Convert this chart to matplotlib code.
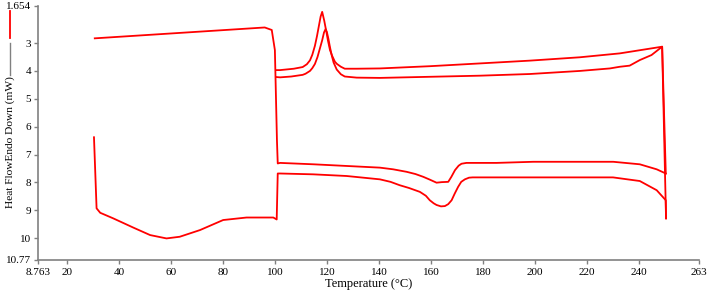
import numpy as np
import matplotlib.pyplot as plt
from matplotlib.lines import Line2D

# First heating: start-up hook, 30 -> 100, then 100 -> 250 (deeper melting dip)
heat1_temp = [30.3, 31.3, 32.7, 37.7, 45.4, 51.9, 58.2, 63.3, 71.1, 80.0, 89.0, 99.3, 100.6,
              101.0, 101.9, 114.6, 127.5, 140.3, 144.4, 147.9, 151.5, 155.7, 158.0, 159.5,
              161.0, 162.1, 163.8, 165.3, 166.6, 167.9, 169.1, 170.4, 171.6, 173.0, 174.6,
              176.0, 194.1, 230.0, 240.3, 246.8, 250.3, 250.4]
heat1_flow = [6.38, 8.93, 9.09, 9.29, 9.62, 9.89, 10.01, 9.95, 9.71, 9.35, 9.26, 9.26, 9.33,
              7.68, 7.68, 7.71, 7.77, 7.89, 7.98, 8.10, 8.20, 8.34, 8.48, 8.64,
              8.75, 8.81, 8.86, 8.85, 8.78, 8.64, 8.40, 8.16, 7.98, 7.89, 7.83,
              7.82, 7.82, 7.82, 7.95, 8.28, 8.64, 9.29]

# First cooling: 250 -> 100 (smaller crystallisation peak)
cool1_temp = [250.4, 250.0, 248.9, 244.8, 240.3, 236.4, 232.6, 228.8, 217.2, 198.0, 178.8,
              159.5, 140.3, 131.4, 126.8, 125.3, 123.7, 122.5, 121.8, 121.1, 120.5, 119.9,
              119.4, 118.8, 118.1, 117.2, 116.3, 115.3, 114.3, 113.4, 111.7, 110.6, 106.2,
              101.9, 100.6]
cool1_flow = [9.29, 7.68, 3.13, 3.43, 3.61, 3.81, 3.85, 3.91, 4.00, 4.11, 4.17,
              4.21, 4.25, 4.24, 4.20, 4.12, 3.95, 3.70, 3.45, 3.15, 2.85, 2.60,
              2.50, 2.62, 2.90, 3.20, 3.50, 3.75, 3.90, 4.00, 4.10, 4.14, 4.20,
              4.23, 4.22]

# Top segment 30 -> 100, then second heating 100 -> 250 (shallow dip)
heat2_temp = [30.6, 96.0, 98.7, 99.9, 100.7, 101.0, 101.9, 114.7, 127.5, 140.3, 145.4, 150.6,
              154.0, 157.0, 159.5, 162.1, 164.1, 166.6, 167.8, 169.2, 170.6, 171.7, 173.6,
              185.2, 199.3, 230.1, 240.3, 246.8, 250.3]
heat2_flow = [2.83, 2.44, 2.53, 3.25, 6.50, 7.32, 7.30, 7.35, 7.41, 7.47, 7.53, 7.62,
              7.70, 7.80, 7.90, 8.01, 7.99, 7.98, 7.80, 7.56, 7.40, 7.33, 7.30,
              7.30, 7.26, 7.26, 7.35, 7.53, 7.68]

# Second cooling: 250 -> 100 (taller crystallisation peak)
cool2_temp = [250.3, 248.9, 232.6, 217.2, 198.0, 178.8, 159.5, 140.3, 131.4, 126.8, 125.3,
              123.8, 123.0, 121.9, 121.1, 120.3, 119.8, 118.9, 118.1, 117.5, 116.9, 116.1,
              115.3, 114.3, 113.4, 112.2, 110.6, 107.2, 101.9, 100.5]
cool2_flow = [7.68, 3.13, 3.37, 3.51, 3.63, 3.73, 3.83, 3.91, 3.92, 3.92, 3.85,
              3.75, 3.67, 3.45, 3.25, 2.90, 2.64, 2.20, 1.88, 2.05, 2.35, 2.75,
              3.10, 3.42, 3.62, 3.76, 3.86, 3.92, 3.97, 3.97]

x_ticks = [8.763, 20, 40, 60, 80, 100, 120, 140, 160, 180, 200, 220, 240, 263]
y_ticks = [1.654, 3, 4, 5, 6, 7, 8, 9, 10, 10.77]

plt.rcParams['font.family'] = ['Liberation Serif', 'DejaVu Serif']

fig = plt.figure(figsize=(7.09, 2.93), dpi=100)
ax = fig.add_axes([0.0536, 0.114, 0.932, 0.867])

for t, f in [(heat1_temp, heat1_flow), (cool1_temp, cool1_flow),
             (heat2_temp, heat2_flow), (cool2_temp, cool2_flow)]:
    ax.plot(t, f, color='#ff0000', linewidth=1.3)

ax.set_xlim(x_ticks[0], x_ticks[-1])
ax.set_ylim(y_ticks[-1], y_ticks[0])
ax.set_xticks(x_ticks)
ax.set_xticklabels(['8.763'] + [str(v) for v in x_ticks[1:]])
ax.set_yticks(y_ticks)
ax.set_yticklabels(['1.654', '3', '4', '5', '6', '7', '8', '9', '10', '10.77'])

for s in ['top', 'right']:
    ax.spines[s].set_visible(False)
for s in ['left', 'bottom']:
    ax.spines[s].set_color('#808080')
    ax.spines[s].set_linewidth(1.2)
ax.tick_params(axis='both', colors='#808080', labelcolor='black', labelsize=8,
               length=3, width=1)
ax.tick_params(axis='x', pad=3)
ax.tick_params(axis='y', pad=2)

ax.set_xlabel('Temperature (°C)', fontsize=9, labelpad=1)

# y label with little legend marks, like the original
fig.text(0.014, 0.515, 'Heat FlowEndo Down (mW)', rotation=90, fontsize=8.2,
         ha='center', va='center')
fig.add_artist(Line2D([0.014, 0.014], [1 - 43 / 293, 1 - 75 / 293],
                      color='#808080', linewidth=1, transform=fig.transFigure))
fig.add_artist(Line2D([0.014, 0.014], [1 - 11 / 293, 1 - 38 / 293],
                      color='#ff0000', linewidth=1.3, transform=fig.transFigure))

fig.savefig('out.png', dpi=100)
